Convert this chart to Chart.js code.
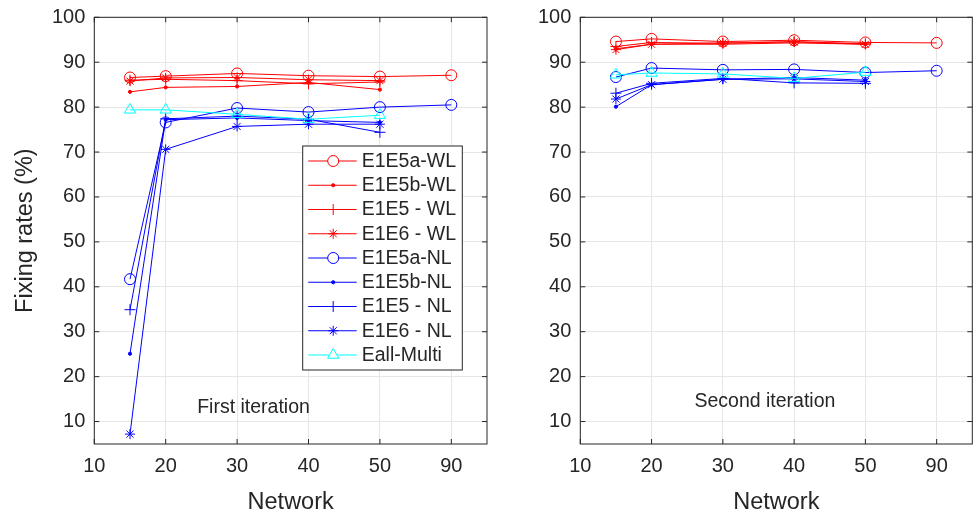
<!DOCTYPE html>
<html>
<head>
<meta charset="utf-8">
<script src="https://cdn.jsdelivr.net/npm/chart.js@4.4.1/dist/chart.umd.min.js"></script>
<style>
  html, body { margin: 0; padding: 0; background: #fff; }
  #wrap { position: relative; width: 976px; height: 514px; }
  canvas { position: absolute; top: 0; }
  #first { left: 0; }
  #second { left: 488px; }
</style>
</head>
<body>
<div id="wrap">
  <canvas id="first" width="488" height="514"></canvas>
  <canvas id="second" width="488" height="514"></canvas>
</div>
<script>
// Network sizes and where they sit on the axis (15 falls between the 10 and 20 ticks)
const networks = [15, 20, 30, 40, 50, 90];
const networkSlots = [0.5, 1, 2, 3, 4, 5];
const xTickLabels = ['10', '20', '30', '40', '50', '90'];
const yTicks = [10, 20, 30, 40, 50, 60, 70, 80, 90, 100];

const seriesNames = ['E1E5a-WL', 'E1E5b-WL', 'E1E5 - WL', 'E1E6 - WL',
                     'E1E5a-NL', 'E1E5b-NL', 'E1E5 - NL', 'E1E6 - NL', 'Eall-Multi'];

// First iteration (%), one value per network, null = not run
const firstE1E5aWL   = [86.6, 86.9, 87.5, 87.0, 86.8, 87.1];
const firstE1E5bWL   = [83.4, 84.4, 84.6, 85.5, 83.9, null];
const firstE1E5WL    = [86.0, 86.2, 85.9, 85.2, 85.6, null];
const firstE1E6WL    = [85.8, 86.5, 86.6, 86.1, 85.9, null];
const firstE1E5aNL   = [41.7, 76.6, 79.8, 78.9, 80.0, 80.5];
const firstE1E5bNL   = [25.1, 77.2, 77.6, 77.0, 76.6, null];
const firstE1E5NL    = [34.9, 77.4, 78.0, 77.3, 74.4, null];
const firstE1E6NL    = [7.2, 70.6, 75.7, 76.2, 76.2, null];
const firstEallMulti = [79.4, 79.4, 78.4, 77.3, 78.2, null];

// Second iteration (%)
const secondE1E5aWL   = [94.6, 95.2, 94.6, 94.9, 94.4, 94.3];
const secondE1E5bWL   = [93.0, 94.0, 94.0, 94.3, 94.0, null];
const secondE1E5WL    = [93.5, 94.4, 94.2, 94.6, 94.1, null];
const secondE1E6WL    = [92.8, 94.0, 94.3, 94.5, 94.0, null];
const secondE1E5aNL   = [86.7, 88.7, 88.3, 88.4, 87.7, 88.1];
const secondE1E5bNL   = [80.1, 85.0, 86.2, 86.6, 86.0, null];
const secondE1E5NL    = [83.1, 85.3, 86.4, 85.4, 85.3, null];
const secondE1E6NL    = [81.8, 85.0, 86.2, 86.3, 85.7, null];
const secondEallMulti = [87.2, 87.6, 87.4, 86.4, 87.8, null];

const firstIteration = [firstE1E5aWL, firstE1E5bWL, firstE1E5WL, firstE1E6WL,
  firstE1E5aNL, firstE1E5bNL, firstE1E5NL, firstE1E6NL, firstEallMulti];
const secondIteration = [secondE1E5aWL, secondE1E5bWL, secondE1E5WL, secondE1E6WL,
  secondE1E5aNL, secondE1E5bNL, secondE1E5NL, secondE1E6NL, secondEallMulti];

// Styles
const seriesColors = ['#ff0000', '#ff0000', '#ff0000', '#ff0000',
                      '#0000ff', '#0000ff', '#0000ff', '#0000ff', '#00ffff'];
const seriesMarkers = ['circle', 'dot', 'cross', 'star', 'circle', 'dot', 'cross', 'star', 'triangle'];
const markerRadius = { circle: 5.5, dot: 1.6, cross: 5.5, star: 5, triangle: 6.5 };
const FONT = '"Liberation Sans", Arial, Helvetica, sans-serif';
const TEXT = '#262626';

function markerOpts(i) {
    const m = seriesMarkers[i];
    return {
        pointStyle: m === 'dot' ? 'circle' : m,
        radius: markerRadius[m],
        fill: m === 'dot' ? seriesColors[i] : 'rgba(0,0,0,0)'
    };
}

function buildDatasets(values) {
    return values.map((vals, i) => {
        const mk = markerOpts(i);
        return {
            label: seriesNames[i],
            data: vals.map((v, j) => ({ x: networkSlots[j], y: v })).filter(p => p.y !== null),
            borderColor: seriesColors[i],
            borderWidth: 1,
            pointStyle: mk.pointStyle,
            pointRadius: mk.radius,
            pointBorderColor: seriesColors[i],
            pointBorderWidth: 1,
            pointBackgroundColor: mk.fill,
            tension: 0,
            order: values.length - i  // later series drawn on top
        };
    });
}

// fixed axis sizes, no extra label padding, so both plot boxes line up
function pinScale(size) {
    return ax => {
        if (ax.isHorizontal()) ax.height = size; else ax.width = size;
        ax.paddingTop = ax.paddingBottom = ax.paddingLeft = ax.paddingRight = 0;
    };
}

// Black box round the plot with inward tick marks on all four sides
const boxPlugin = {
    id: 'box',
    afterDatasetsDraw(chart) {
        const { ctx, chartArea: a, scales } = chart;
        ctx.save();
        ctx.strokeStyle = '#262626';
        ctx.lineWidth = 1;
        ctx.beginPath();
        xTickLabels.forEach((_, i) => {
            const px = scales.x.getPixelForValue(i);
            ctx.moveTo(px, a.bottom); ctx.lineTo(px, a.bottom - 5);
            ctx.moveTo(px, a.top); ctx.lineTo(px, a.top + 5);
        });
        yTicks.forEach(v => {
            const py = scales.y.getPixelForValue(v);
            ctx.moveTo(a.left, py); ctx.lineTo(a.left + 5, py);
            ctx.moveTo(a.right, py); ctx.lineTo(a.right - 5, py);
        });
        ctx.stroke();
        ctx.strokeRect(a.left, a.top, a.right - a.left, a.bottom - a.top);
        ctx.restore();
    }
};

// Text placed in data coordinates
const captionPlugin = {
    id: 'caption',
    afterDatasetsDraw(chart, args, opts) {
        if (!opts.text) return;
        const { ctx, scales } = chart;
        ctx.save();
        ctx.font = `19.5px ${FONT}`;
        ctx.fillStyle = TEXT;
        ctx.textAlign = 'center';
        ctx.textBaseline = 'middle';
        ctx.fillText(opts.text, scales.x.getPixelForValue(opts.x), scales.y.getPixelForValue(opts.y));
        ctx.restore();
    }
};

// Legend with a line sample through each marker
const lineLegendPlugin = {
    id: 'lineLegend',
    afterDraw(chart, args, opts) {
        if (!opts.show) return;
        const { ctx } = chart;
        const { left, top, width, height, rowTop, rowGap } = opts;
        ctx.save();
        ctx.fillStyle = '#ffffff';
        ctx.fillRect(left, top, width, height);
        ctx.strokeStyle = '#262626';
        ctx.lineWidth = 1;
        ctx.strokeRect(left, top, width, height);
        ctx.font = `19.5px ${FONT}`;
        ctx.textBaseline = 'middle';
        seriesNames.forEach((name, i) => {
            const y = rowTop + i * rowGap;
            const mk = markerOpts(i);
            ctx.strokeStyle = seriesColors[i];
            ctx.beginPath();
            ctx.moveTo(left + 5.5, y);
            ctx.lineTo(left + 54, y);
            ctx.stroke();
            ctx.fillStyle = seriesMarkers[i] === 'dot' ? seriesColors[i] : '#ffffff';
            Chart.helpers.drawPoint(ctx, {
                pointStyle: mk.pointStyle, radius: mk.radius, rotation: 0, borderWidth: 1
            }, left + 30.5, y);
            ctx.fillStyle = TEXT;
            ctx.fillText(name, left + 59, y + 0.5);
        });
        ctx.restore();
    }
};

function makeChart(id, values, opts) {
    return new Chart(document.getElementById(id), {
        type: 'line',
        data: { datasets: buildDatasets(values) },
        plugins: [boxPlugin, captionPlugin, lineLegendPlugin],
        options: {
            responsive: false,
            animation: false,
            devicePixelRatio: 1,
            layout: {
                autoPadding: false,
                padding: { top: 17.3, right: opts.rightPad, left: 0, bottom: 0 }
            },
            plugins: {
                legend: { display: false },
                tooltip: { enabled: false },
                caption: opts.caption,
                lineLegend: opts.legend
            },
            scales: {
                x: {
                    type: 'linear',
                    min: 0,
                    max: 5.5,
                    afterBuildTicks: ax => { ax.ticks = xTickLabels.map((_, i) => ({ value: i })); },
                    afterFit: pinScale(70),
                    grid: { color: '#e6e6e6', lineWidth: 1, drawTicks: false },
                    border: { display: false },
                    ticks: {
                        callback: v => xTickLabels[v],
                        font: { size: 20, family: FONT },
                        color: TEXT,
                        padding: 10,
                        maxRotation: 0
                    },
                    title: {
                        display: true,
                        text: 'Network',
                        font: { size: 23.5, family: FONT, lineHeight: 1 },
                        color: TEXT,
                        padding: { top: 0, bottom: 0 }
                    }
                },
                y: {
                    min: 5,
                    max: 100,
                    afterBuildTicks: ax => { ax.ticks = yTicks.map(v => ({ value: v })); },
                    afterFit: pinScale(opts.yWidth),
                    grid: { color: '#e6e6e6', lineWidth: 1, drawTicks: false },
                    border: { display: false },
                    ticks: {
                        font: { size: 20, family: FONT },
                        color: TEXT,
                        padding: 9
                    },
                    title: {
                        display: opts.yTitle,
                        text: 'Fixing rates (%)',
                        font: { size: 23.5, family: FONT, lineHeight: 1 },
                        color: TEXT,
                        padding: { top: 13.5, bottom: 0 }
                    }
                }
            }
        }
    });
}

makeChart('first', firstIteration, {
    yWidth: 94.3, rightPad: 1, yTitle: true,
    caption: { text: 'First iteration', x: 2.23, y: 13 },
    legend: { show: true, left: 302.7, top: 146, width: 159.6, height: 224, rowTop: 161, rowGap: 24.25 }
});

makeChart('second', secondIteration, {
    yWidth: 92.3, rightPad: 3.7, yTitle: false,
    caption: { text: 'Second iteration', x: 2.59, y: 14.4 },
    legend: { show: false }
});
</script>
</body>
</html>
